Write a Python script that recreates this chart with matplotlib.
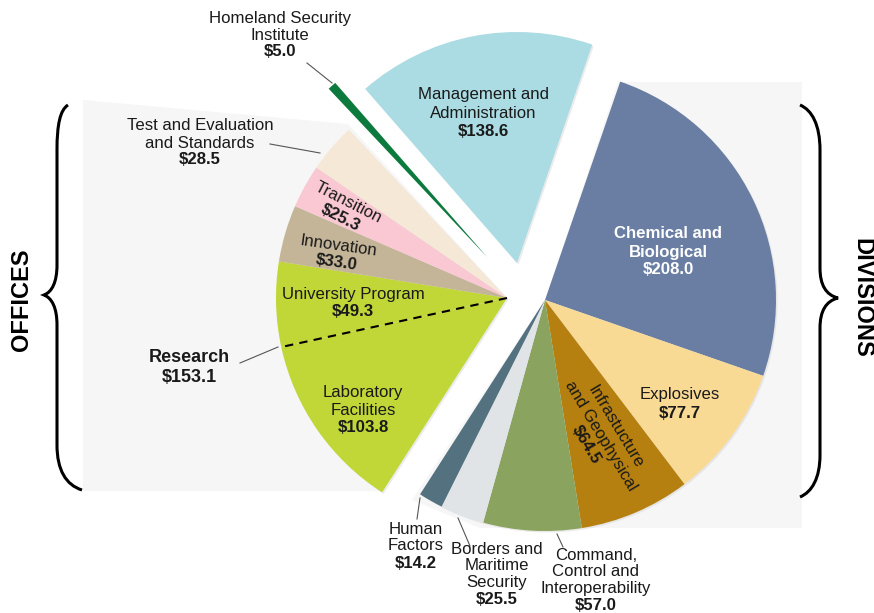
import numpy as np
import matplotlib
matplotlib.use('Agg')
import matplotlib.pyplot as plt
from matplotlib.patches import Wedge, Polygon, PathPatch
from matplotlib.path import Path

plt.rcParams['font.family'] = ['Liberation Sans', 'DejaVu Sans']

# slices in clockwise order, starting at the top edge of Chemical and Biological
names = ['Chemical and Biological', 'Explosives', 'Infrastucture and Geophysical',
         'Command, Control and Interoperability', 'Borders and Maritime Security',
         'Human Factors', 'Laboratory Facilities', 'University Program', 'Innovation',
         'Transition', 'Test and Evaluation and Standards', 'Homeland Security Institute',
         'Management and Administration']
values = [208.0, 77.7, 64.5, 57.0, 25.5, 14.2, 103.8, 49.3, 33.0, 25.3, 28.5, 5.0, 138.6]
groups = ['div', 'div', 'div', 'div', 'div', 'div', 'off', 'off', 'off', 'off', 'off', 'hsi', 'mgmt']
colors = ['#6a7ea3', '#f8da95', '#b5800f', '#8aa35e', '#e1e4e6', '#53717f', '#c1d637',
          '#c1d637', '#c4b598', '#f9c8d3', '#f6e8d7', '#0c7a3d', '#abdce3']

# where each group of slices is pulled out to (image pixels)
centers = {'div': (545, 300), 'off': (507, 298), 'mgmt': (517, 263), 'hsi': (487, 257)}
R = 231
start = 71.0

fig = plt.figure(figsize=(8.74, 6.13), dpi=100)
ax = fig.add_axes([0, 0, 1, 1])
ax.set_xlim(0, 874)
ax.set_ylim(613, 0)
ax.set_aspect('equal')
ax.axis('off')

# light grey panels behind the two groups
ax.add_patch(Polygon([(83, 100), (348, 124), (507, 298), (380, 491), (83, 491)],
                     closed=True, fc='#f6f6f6', ec='none', zorder=0))
ax.add_patch(Polygon([(618, 82), (802, 82), (802, 528), (480, 528), (412, 500), (545, 300)],
                     closed=True, fc='#f6f6f6', ec='none', zorder=0))

total = sum(values)
cum = 0.0
bounds = []
for v, g, c in zip(values, groups, colors):
    a_top = start - cum / total * 360
    a_bot = a_top - v / total * 360
    cx, cy = centers[g]
    # soft shadow
    ax.add_patch(Wedge((cx + 1.5, cy + 1.5), R, -a_top, -a_bot, fc='#d8d8d8', ec='none',
                       alpha=0.5, zorder=1))
    ax.add_patch(Wedge((cx, cy), R, -a_top, -a_bot, fc=c, ec='none', zorder=2))
    bounds.append((a_top, a_bot))
    cum += v

# dashed split inside Research (Laboratory / University)
a = np.radians(bounds[6][1])
cx, cy = centers['off']
ax.plot([cx, cx + R * np.cos(a)], [cy, cy - R * np.sin(a)], ls=(0, (4, 3)), color='black',
        lw=1.5, zorder=3)

FS = 12.1


def label(x, y, lines, value, rot=0, step=17.5, color='#1a1a1a', bold_all=False, fs=FS):
    t = np.radians(rot)
    # next-line direction for rotated text (image coords, y down)
    dx, dy = np.sin(t) * step, np.cos(t) * step
    for i, s in enumerate(lines + [value]):
        w = 'bold' if (bold_all or i == len(lines)) else 'normal'
        ax.text(x + dx * i, y + dy * i, s, ha='center', va='center', rotation=rot,
                rotation_mode='anchor', fontsize=fs, fontweight=w, color=color, zorder=5)


label(280, 18, ['Homeland Security', 'Institute'], '$5.0', step=17)
label(483, 95, ['Management and', 'Administration'], '$138.6', step=18.5)
label(200, 126, ['Test and Evaluation', 'and Standards'], '$28.5', step=17)
label(348, 203, ['Transition'], '$25.3', rot=-27, step=16)
label(339, 246, ['Innovation'], '$33.0', rot=-8, step=16.5)
label(353, 294, ['University Program'], '$49.3', step=17)
label(189, 358, ['Research'], '$153.1', step=19, bold_all=True, fs=13)
label(363, 393, ['Laboratory', 'Facilities'], '$103.8', step=17.5)
label(668, 234, ['Chemical and', 'Biological'], '$208.0', step=18, color='white', bold_all=True)
label(680, 395, ['Explosives'], '$77.7', step=18)
label(615, 427, ['Infrastucture', 'and Geophysical'], '$64.5', rot=-59, step=17)
label(416, 529, ['Human', 'Factors'], '$14.2', step=17)
label(497, 549, ['Borders and', 'Maritime', 'Security'], '$25.5', step=17)
label(596, 555, ['Command,', 'Control and', 'Interoperability'], '$57.0', step=17)

# leader lines
leaders = [((307, 63), (332, 83)), ((270, 144), (320, 153)), ((240, 363), (278, 347)),
           ((420, 498), (417, 519)), ((458, 518), (470, 546)), ((557, 534), (563, 547))]
for (x0, y0), (x1, y1) in leaders:
    ax.plot([x0, x1], [y0, y1], color='#555555', lw=0.8, zorder=4)


def brace(pts):
    codes = [Path.MOVETO, Path.CURVE4, Path.CURVE4, Path.CURVE4, Path.LINETO,
             Path.CURVE4, Path.CURVE4, Path.CURVE4, Path.CURVE4, Path.CURVE4, Path.CURVE4,
             Path.LINETO, Path.CURVE4, Path.CURVE4, Path.CURVE4]
    ax.add_patch(PathPatch(Path(pts, codes), fc='none', ec='black', lw=2.2, zorder=4))


brace([(68, 105), (60, 110), (57, 125), (57, 150), (57, 265), (57, 282), (52, 292), (44, 295),
       (52, 298), (57, 308), (57, 325), (57, 445), (57, 470), (66, 485), (82, 490)])
brace([(800, 105), (812, 110), (820, 125), (820, 150), (820, 268), (820, 285), (826, 295),
       (838, 298), (826, 301), (820, 311), (820, 328), (820, 455), (820, 478), (812, 492),
       (800, 497)])

ax.text(22, 300, 'OFFICES', rotation=90, ha='center', va='center', fontsize=17,
        fontweight='bold', color='black')
ax.text(862, 298, 'DIVISIONS', rotation=-90, ha='center', va='center', fontsize=17,
        fontweight='bold', color='black')

fig.savefig('out.png', dpi=100)
